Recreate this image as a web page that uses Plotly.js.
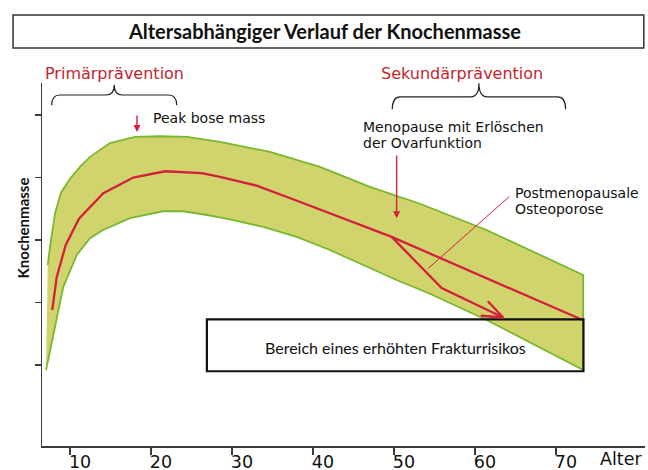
<!DOCTYPE html>
<html>
<head>
<meta charset="utf-8">
<script src="https://cdn.plot.ly/plotly-3.0.1.min.js"></script>
<style>html,body{margin:0;padding:0;background:#fff;}#chart{width:648px;height:470px;}</style>
</head>
<body>
<div id="chart"></div>
<script>
// ---- data ----
const ageUpper  = [7.25, 7.53, 8.15, 8.89, 10.0, 11.23, 12.47, 14.94, 18.02, 21.11, 24.44, 28.52, 34.69, 40.86, 47.04, 53.21, 61.44, 73.37];
const massUpper = [2.60, 2.89, 3.43, 3.76, 3.98, 4.17, 4.33, 4.55, 4.65, 4.66, 4.65, 4.57, 4.41, 4.17, 3.85, 3.58, 3.16, 2.44];
const ageLower  = [7.04, 7.94, 9.17, 10.83, 12.47, 14.07, 17.41, 21.48, 23.95, 26.91, 29.75, 33.86, 37.99, 42.10, 46.21, 50.33, 54.44, 61.44, 73.37];
const massLower = [0.92, 1.45, 2.25, 2.76, 3.03, 3.16, 3.35, 3.46, 3.46, 3.40, 3.33, 3.21, 3.05, 2.84, 2.60, 2.36, 2.14, 1.72, 0.92];
const ageMean   = [7.81, 8.36, 9.47, 11.11, 14.11, 17.81, 21.73, 26.26, 28.52, 33.05, 37.78, 44.94, 49.72, 73.3];
const massMean  = [1.88, 2.41, 2.92, 3.34, 3.75, 4.00, 4.10, 4.07, 4.01, 3.87, 3.64, 3.29, 3.05, 1.72];
const ageOsteo  = [49.72, 55.89, 63.49];
const massOsteo = [3.05, 2.23, 1.76];
const xTicks    = [10, 20, 30, 40, 50, 60, 70];
const yTicks    = [1, 2, 3, 4, 5];
const riskZone  = {ageFrom: 26.9, ageTo: 73.4, massFrom: 0.9, massTo: 1.73};

const RED = '#d3213d';
const RED_TXT = '#c3262e';
const GREEN = '#78b82e';
const FILL = '#d1d36c';
const AX = '#3a3a3a';
const SANS = 'DejaVu Sans, Verdana, sans-serif';
const CAL = 'Lato, Open Sans, sans-serif';

const bandX = ageUpper.concat(ageLower.slice().reverse());
const bandY = massUpper.concat(massLower.slice().reverse());

const traces = [
  {x: bandX, y: bandY, type: 'scatter', mode: 'lines', fill: 'toself', fillcolor: FILL,
   line: {color: GREEN, width: 1.8}, hoverinfo: 'skip', showlegend: false},
  {x: ageMean, y: massMean, type: 'scatter', mode: 'lines',
   line: {color: RED, width: 2.3}, hoverinfo: 'skip', showlegend: false},
  {x: ageOsteo, y: massOsteo, type: 'scatter', mode: 'lines',
   line: {color: RED, width: 2.3}, hoverinfo: 'skip', showlegend: false}
];

function bracePath(x0, x1, yEnd, yFlat, yTip, r) {
  const xm = (x0 + x1) / 2;
  return `M${x0},${yEnd} Q${x0},${yFlat} ${x0 + r},${yFlat} L${xm - r},${yFlat} Q${xm},${yFlat} ${xm},${yTip} ` +
         `Q${xm},${yFlat} ${xm + r},${yFlat} L${x1 - r},${yFlat} Q${x1},${yFlat} ${x1},${yEnd}`;
}

const shapes = [
  // title frame
  {type: 'rect', xref: 'paper', yref: 'paper', x0: -0.048, x1: 0.998, y0: 1.0964, y1: 1.1873,
   line: {color: '#333', width: 1.5}, fillcolor: 'rgba(0,0,0,0)', layer: 'above'},
  // fracture risk zone
  {type: 'rect', xref: 'x', yref: 'y', x0: riskZone.ageFrom, x1: riskZone.ageTo, y0: riskZone.massFrom, y1: riskZone.massTo,
   line: {color: '#111', width: 2.2}, fillcolor: 'rgba(0,0,0,0)', layer: 'above'},
  // braces
  {type: 'path', xref: 'x', yref: 'paper', path: bracePath(7.74, 23.17, 0.939, 0.967, 0.9945, 1.0),
   line: {color: '#222', width: 1.2}},
  {type: 'path', xref: 'x', yref: 'paper', path: bracePath(49.79, 71.2, 0.9275, 0.962, 0.9992, 1.0),
   line: {color: '#222', width: 1.2}}
];

function txt(text, x, y, opts) {
  return Object.assign({text: text, x: x, y: y, xref: 'x', yref: 'y', showarrow: false,
    xanchor: 'left', yanchor: 'middle', borderpad: 0, borderwidth: 0,
    font: {family: SANS, size: 14, color: '#111'}}, opts || {});
}

const annotations = [
  txt('Primärprävention', 15.45, 1.0248, {yref: 'paper', xanchor: 'center', font: {family: SANS, size: 16, color: RED_TXT}}),
  txt('Sekundärprävention', 58.43, 1.0248, {yref: 'paper', xanchor: 'center', font: {family: SANS, size: 16, color: RED_TXT}}),
  txt('Peak bose mass', 20.25, 4.952),
  txt('Menopause mit Erlöschen', 46.17, 4.808),
  txt('der Ovarfunktion', 46.17, 4.552),
  txt('Postmenopausale', 64.94, 3.757),
  txt('Osteoporose', 64.94, 3.491),
  txt('Bereich eines erhöhten Frakturrisikos', 50.25, 1.288, {xanchor: 'center', font: {family: CAL, size: 16, color: '#111'}}),
  txt('Alter', 0.9254, -0.0345, {xref: 'paper', yref: 'paper', font: {family: SANS, size: 17.5, color: '#111'}}),
  txt('<b>Knochenmasse</b>', -0.0299, 0.602, {xref: 'paper', yref: 'paper', xanchor: 'center', textangle: -90,
      font: {family: CAL, size: 15, color: '#111'}}),
  // arrows
  {x: 18.27, y: 4.728, ax: 18.27, ay: 5.0, xref: 'x', yref: 'y', axref: 'x', ayref: 'y', text: '',
   showarrow: true, arrowhead: 2, arrowsize: 1, arrowwidth: 1.4, arrowcolor: RED, standoff: 0, borderpad: 0},
  {x: 50.33, y: 3.347, ax: 50.33, ay: 4.36, xref: 'x', yref: 'y', axref: 'x', ayref: 'y', text: '',
   showarrow: true, arrowhead: 2, arrowsize: 1, arrowwidth: 1.4, arrowcolor: RED, standoff: 0, borderpad: 0},
  {x: 54.24, y: 2.547, ax: 64.32, ay: 3.704, xref: 'x', yref: 'y', axref: 'x', ayref: 'y', text: '',
   showarrow: true, arrowhead: 0, arrowwidth: 1, arrowcolor: RED, standoff: 0, borderpad: 0}
];

const layout = {
  width: 648, height: 470,
  margin: {l: 42, r: 3, t: 83, b: 24, pad: 0},
  paper_bgcolor: '#fff', plot_bgcolor: '#fff',
  showlegend: false,
  title: {text: 'Altersabhängiger Verlauf der Knochenmasse', x: 0.5015, xref: 'container', y: 0.932, yref: 'container',
          xanchor: 'center', yanchor: 'middle', font: {family: CAL, size: 20, color: '#111', weight: 'bold'}},
  xaxis: {range: [6.54, 81.0], tickvals: xTicks, ticktext: xTicks.map(String), ticks: 'outside', ticklen: 7, tickwidth: 1.5,
          tickcolor: AX, showline: true, linecolor: AX, linewidth: 1.5, showgrid: false, zeroline: false,
          ticklabelshift: 10, ticklabelstandoff: -8, tickfont: {family: SANS, size: 17.5, color: '#111'}, fixedrange: true},
  yaxis: {range: [-0.296, 5.512], tickvals: yTicks, showticklabels: false, ticks: 'outside', ticklen: 6, tickwidth: 1.5,
          tickcolor: AX, showline: true, linecolor: AX, linewidth: 1.5, showgrid: false, zeroline: false, fixedrange: true},
  shapes: shapes,
  annotations: annotations
};

const gd = document.getElementById('chart');
Plotly.newPlot(gd, traces, layout, {displayModeBar: false, staticPlot: true}).then(function () {
  // open arrowhead at the end of the osteoporosis branch, oriented with the library's own axis scales
  const xa = gd._fullLayout.xaxis, ya = gd._fullLayout.yaxis;
  const n = ageOsteo.length;
  const dx = xa.l2p(ageOsteo[n - 2]) - xa.l2p(ageOsteo[n - 1]);
  const dy = ya.l2p(massOsteo[n - 2]) - ya.l2p(massOsteo[n - 1]);
  const back = Math.atan2(dy, dx);
  const half = 21 * Math.PI / 180, len = 23;
  const barbs = [-1, 1].map(function (s) {
    return {x: ageOsteo[n - 1], y: massOsteo[n - 1], xref: 'x', yref: 'y', text: '', showarrow: true,
      arrowhead: 0, arrowwidth: 2.3, arrowcolor: RED, standoff: 0, borderpad: 0,
      ax: len * Math.cos(back + s * half), ay: len * Math.sin(back + s * half)};
  });
  return Plotly.relayout(gd, {annotations: annotations.concat(barbs)});
});
</script>
</body>
</html>
